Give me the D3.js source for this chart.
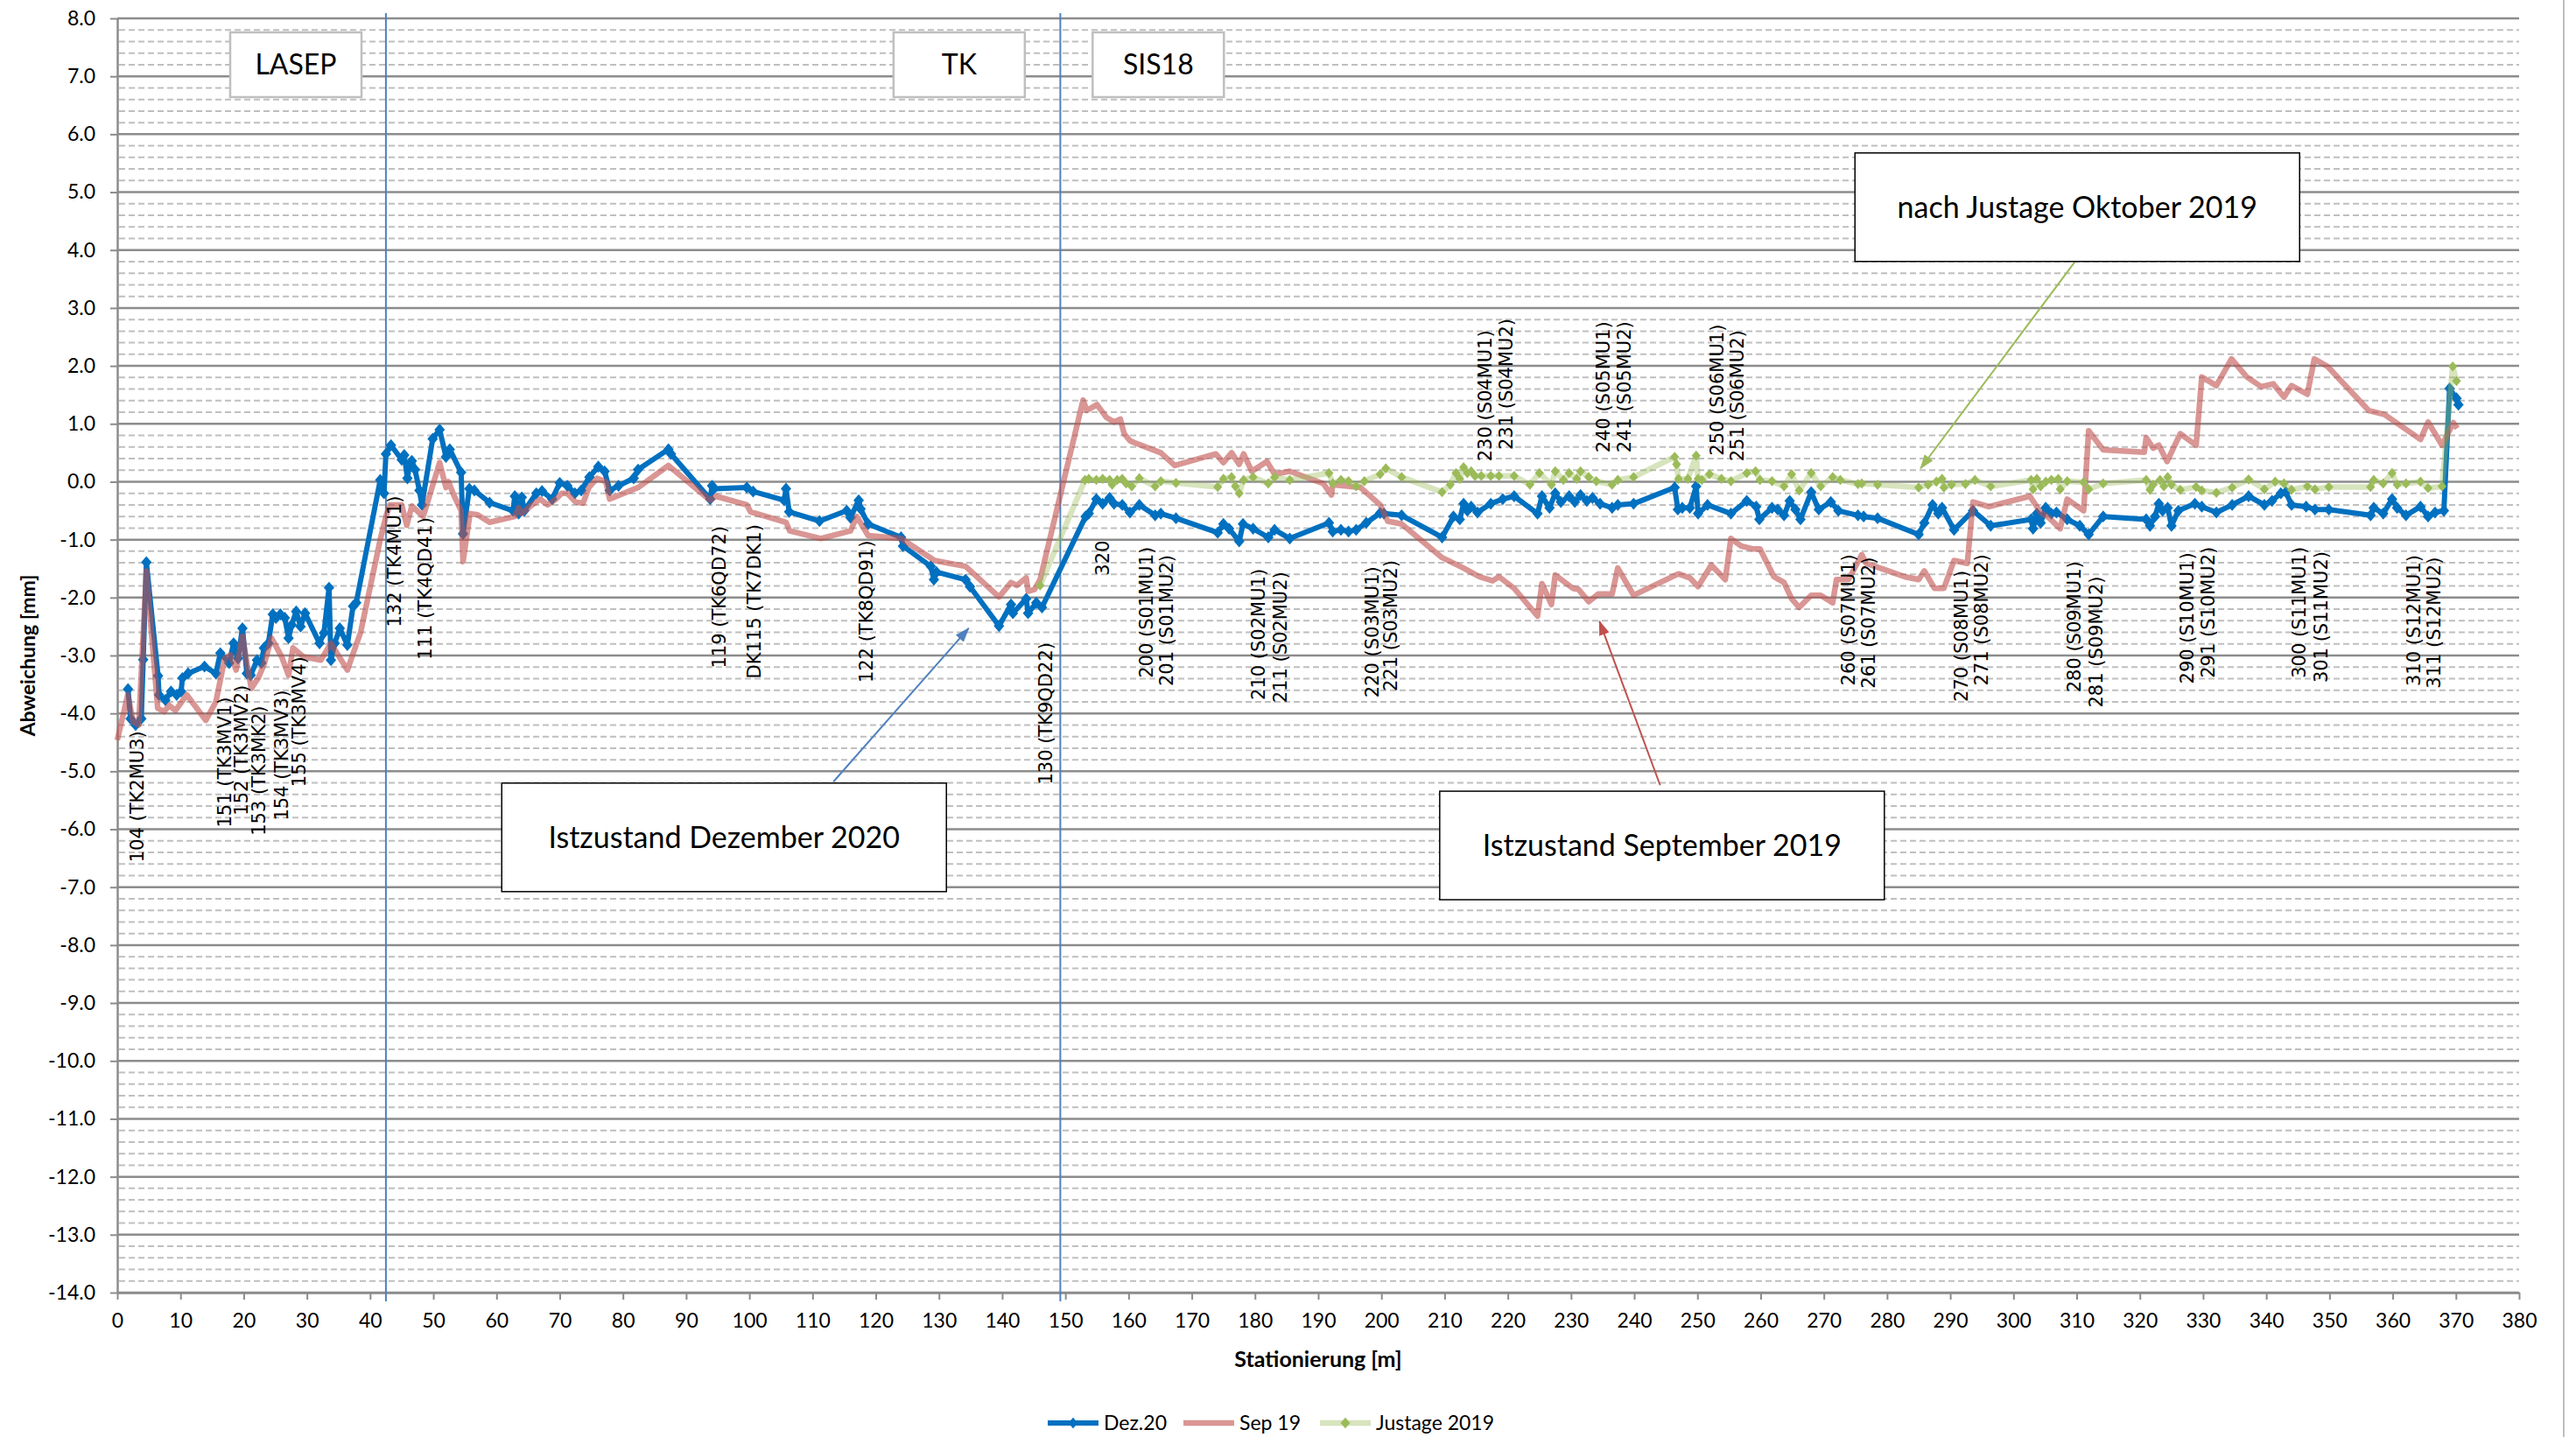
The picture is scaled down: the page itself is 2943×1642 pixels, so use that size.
<!DOCTYPE html>
<html>
<head>
<meta charset="utf-8">
<script src="https://cdn.jsdelivr.net/npm/d3@7"></script>
<style>
  body { margin: 0; background: #fff; }
  svg { display: block; font-family: Lato, "Open Sans", sans-serif; }
</style>
</head>
<body>
<script>
// ---- data (station [m], deviation [mm]) ----
const dez20 = [
  [1.7,-3.58],[2.1,-4.09],[2.9,-4.2],[3.8,-4.09],[4.1,-3.07],[4.6,-1.39],[6.45,-3.35],[6.6,-3.68],[7.6,-3.77],[8.5,-3.62],
  [9.4,-3.68],[10.1,-3.62],[10.3,-3.39],[11.2,-3.31],[13.8,-3.19],[15.6,-3.31],[16.3,-2.96],[17.7,-3.13],[18.4,-2.79],[19.1,-3.05],
  [19.8,-2.53],[20.5,-3.31],[21.1,-3.34],[22.1,-3.08],[22.8,-3.13],[23.2,-2.87],[23.9,-2.79],[24.6,-2.29],[25.1,-2.35],[25.8,-2.29],
  [26.5,-2.35],[27.1,-2.7],[27.6,-2.47],[28.3,-2.24],[29.0,-2.5],[29.7,-2.27],[32.0,-2.79],[32.7,-2.61],[33.5,-1.83],[33.8,-3.08],
  [34.4,-2.79],[35.2,-2.53],[36.4,-2.82],[37.3,-2.15],[37.8,-2.09],[41.6,0.03],[42.2,-0.2],[42.5,0.48],[43.3,0.63],[45.0,0.38],
  [45.4,0.46],[45.9,0.06],[46.2,0.26],[46.6,0.36],[47.1,0.21],[47.8,-0.15],[48.2,-0.4],[49.9,0.74],[51.0,0.9],[52.0,0.43],
  [52.6,0.56],[54.4,0.16],[54.7,-0.9],[55.7,-0.12],[56.5,-0.15],[58.9,-0.36],[62.6,-0.5],[62.9,-0.25],[63.5,-0.55],[64.0,-0.27],
  [64.4,-0.5],[66.3,-0.2],[67.2,-0.16],[68.8,-0.3],[70.0,-0.02],[71.2,-0.07],[72.4,-0.2],[73.4,-0.15],[74.7,0.08],[76.1,0.26],
  [77.1,0.18],[77.9,-0.15],[79.3,-0.07],[81.7,0.06],[82.4,0.21],[87.2,0.56],[87.6,0.48],[93.8,-0.3],[94.1,-0.07],[94.4,-0.12],
  [99.6,-0.1],[100.6,-0.17],[105.5,-0.32],[105.8,-0.12],[106.3,-0.52],[111.1,-0.68],[115.4,-0.5],[116.0,-0.62],[117.3,-0.32],[117.6,-0.47],
  [118.8,-0.73],[124.0,-0.96],[124.3,-1.11],[128.7,-1.46],[129.2,-1.69],[129.6,-1.56],[134.2,-1.69],[134.9,-1.81],[139.5,-2.49],[141.4,-2.12],
  [141.7,-2.27],[143.8,-2.02],[144.1,-2.27],[145.4,-2.09],[146.3,-2.17],[153.2,-0.6],[153.7,-0.55],[154.9,-0.3],[155.9,-0.38],[157.0,-0.28],
  [157.7,-0.38],[159.0,-0.4],[160.2,-0.53],[161.7,-0.4],[164.2,-0.58],[165.1,-0.55],[167.5,-0.63],[174.1,-0.88],[175.0,-0.73],[175.9,-0.81],
  [177.5,-1.03],[178.1,-0.73],[179.7,-0.81],[182.1,-0.96],[183.1,-0.83],[185.5,-0.98],[191.7,-0.71],[192.3,-0.86],[193.6,-0.83],[194.8,-0.86],
  [196.0,-0.83],[197.6,-0.71],[199.8,-0.54],[200.4,-0.55],[203.2,-0.58],[209.6,-0.96],[211.4,-0.6],[212.4,-0.65],[213.0,-0.38],[213.6,-0.5],
  [214.2,-0.43],[215.2,-0.53],[217.3,-0.38],[219.2,-0.3],[221.0,-0.25],[224.7,-0.55],[225.4,-0.25],[226.6,-0.45],[227.5,-0.2],[228.4,-0.35],
  [229.7,-0.25],[230.6,-0.35],[231.5,-0.23],[232.5,-0.33],[233.4,-0.28],[234.6,-0.38],[236.5,-0.45],[237.4,-0.4],[239.9,-0.38],[246.4,-0.1],
  [246.9,-0.48],[247.6,-0.45],[248.8,-0.45],[249.8,-0.08],[250.1,-0.55],[251.6,-0.4],[255.3,-0.55],[257.8,-0.33],[259.3,-0.43],[259.8,-0.65],
  [261.8,-0.45],[262.7,-0.48],[263.7,-0.58],[264.6,-0.33],[265.5,-0.48],[266.3,-0.65],[268.0,-0.18],[269.2,-0.48],[271.1,-0.35],[272.3,-0.5],
  [275.4,-0.58],[276.3,-0.6],[278.5,-0.63],[285.0,-0.91],[285.9,-0.71],[287.2,-0.4],[288.1,-0.55],[288.7,-0.45],[290.6,-0.83],[293.6,-0.5],
  [296.4,-0.76],[302.8,-0.65],[303.1,-0.81],[303.7,-0.55],[304.3,-0.71],[305.1,-0.45],[306.0,-0.55],[306.8,-0.53],[308.5,-0.65],[310.5,-0.76],
  [311.9,-0.91],[314.2,-0.6],[321.0,-0.65],[321.6,-0.76],[322.4,-0.6],[323.0,-0.38],[323.6,-0.5],[324.4,-0.45],[325.0,-0.76],[326.1,-0.5],
  [328.7,-0.38],[329.8,-0.43],[332.1,-0.53],[334.6,-0.4],[337.2,-0.25],[339.7,-0.4],[340.9,-0.33],[342.3,-0.2],[343.1,-0.18],[344.0,-0.4],
  [346.3,-0.43],[347.7,-0.48],[349.9,-0.48],[356.5,-0.58],[357.0,-0.45],[358.5,-0.55],[359.9,-0.3],[360.7,-0.45],[362.1,-0.58],[364.4,-0.43],
  [365.6,-0.6],[366.7,-0.53],[368.1,-0.5],[369.0,1.61],[370.1,1.44],[370.4,1.33]
];

const sep19 = [
  [0,-4.46],[1.66,-3.68],[2.5,-4.14],[3.4,-4.2],[4.6,-1.54],[6.4,-3.91],[7.4,-3.97],[8.2,-3.86],[9.2,-3.95],[11.0,-3.68],
  [14.0,-4.12],[15.6,-3.8],[17.0,-3.05],[17.9,-2.99],[18.8,-3.25],[19.8,-2.67],[21.2,-3.57],[22.3,-3.39],[23.2,-3.16],[24.4,-2.7],
  [26.0,-3.02],[27.1,-3.34],[27.8,-2.87],[29.4,-3.02],[32.2,-3.08],[33.8,-2.79],[36.4,-3.25],[38.5,-2.6],[41.6,-1.0],[42.5,-0.6],
  [43.1,-0.4],[45.0,-0.4],[45.8,-0.75],[46.6,-0.42],[48.4,-0.6],[51.0,0.33],[52.0,-0.1],[52.4,0.0],[53.2,-0.22],[54.4,-0.5],
  [54.7,-1.38],[55.8,-0.55],[57.0,-0.57],[58.9,-0.7],[62.9,-0.6],[63.5,-0.45],[64.0,-0.55],[65.4,-0.42],[66.9,-0.3],[68.1,-0.4],
  [69.4,-0.3],[70.3,-0.2],[71.2,-0.2],[72.5,-0.35],[73.7,-0.37],[74.6,-0.1],[75.9,0.06],[77.3,0.0],[77.9,-0.3],[82.4,-0.1],
  [87.2,0.28],[93.8,-0.32],[94.7,-0.25],[99.6,-0.4],[100.2,-0.52],[105.8,-0.7],[106.4,-0.85],[111.3,-0.98],[116.0,-0.85],[117.0,-0.6],
  [118.8,-0.93],[124.0,-0.98],[129.3,-1.36],[134.2,-1.46],[139.5,-1.99],[141.4,-1.74],[142.3,-1.79],[143.8,-1.66],[144.1,-1.89],[145.1,-1.86],
  [146.0,-1.69],[152.8,1.41],[153.4,1.23],[155.0,1.33],[156.5,1.11],[157.7,1.03],[158.7,1.08],[159.3,0.83],[160.2,0.71],[160.8,0.68],
  [165.1,0.5],[167.3,0.28],[173.8,0.48],[175.0,0.33],[176.3,0.5],[177.5,0.3],[178.2,0.48],[179.5,0.18],[181.9,0.35],[183.1,0.13],
  [185.5,0.18],[190.8,-0.03],[192.1,-0.23],[192.3,-0.05],[196.7,-0.1],[199.8,-0.4],[201.0,-0.68],[203.2,-0.73],[209.6,-1.31],[213.0,-1.49],
  [215.5,-1.64],[217.6,-1.71],[218.6,-1.64],[221.0,-1.84],[224.7,-2.32],[225.4,-1.76],[226.9,-2.12],[227.5,-1.61],[230.3,-1.84],[231.2,-1.86],
  [232.8,-2.07],[234.3,-1.94],[236.5,-1.94],[237.4,-1.49],[239.9,-1.96],[247.0,-1.59],[248.8,-1.66],[250.1,-1.81],[252.2,-1.44],[254.4,-1.69],
  [255.3,-0.98],[256.9,-1.11],[258.7,-1.16],[259.9,-1.16],[262.1,-1.64],[263.7,-1.74],[264.9,-2.02],[266.1,-2.17],[268.0,-1.96],[269.5,-1.96],
  [271.4,-2.09],[272.0,-1.69],[273.9,-1.69],[276.0,-1.26],[276.7,-1.41],[279.4,-1.51],[282.8,-1.64],[285.0,-1.69],[285.9,-1.54],[287.5,-1.84],
  [289.0,-1.84],[290.6,-1.36],[292.7,-1.41],[293.6,-0.35],[296.1,-0.43],[302.6,-0.25],[304.3,-0.53],[305.7,-0.63],[307.4,-0.81],[308.5,-0.3],
  [311.1,-0.5],[311.9,0.88],[314.2,0.55],[320.7,0.51],[321.0,0.76],[322.1,0.58],[323.0,0.63],[324.3,0.35],[326.4,0.83],[328.9,0.63],
  [329.8,1.81],[332.1,1.66],[334.5,2.12],[336.9,1.81],[339.2,1.64],[341.1,1.69],[342.8,1.46],[344.0,1.66],[346.5,1.51],[347.6,2.12],
  [349.7,1.99],[356.2,1.23],[358.7,1.16],[364.4,0.73],[365.6,1.03],[367.8,0.63],[369.6,1.02],[370.2,0.92]
];

const justage2019 = [
  [146.0,-1.79],[153.1,0.03],[153.7,0.05],[154.9,0.03],[155.9,0.05],[157.0,0.03],[157.4,-0.05],[158.2,0.03],[159.0,0.05],[159.6,-0.03],
  [160.5,-0.08],[161.7,0.06],[164.2,-0.08],[165.1,0.01],[167.5,-0.02],[174.1,-0.09],[175.0,0.05],[176.3,0.08],[176.9,-0.08],[177.5,-0.2],
  [178.2,0.03],[179.7,0.08],[182.1,-0.03],[183.1,0.08],[185.5,0.03],[191.7,0.15],[192.3,-0.03],[193.6,0.03],[194.8,0.01],[196.0,-0.08],
  [197.3,0.01],[199.8,0.13],[200.7,0.23],[203.2,0.08],[209.6,-0.18],[210.9,-0.05],[211.8,0.15],[212.4,0.05],[213.0,0.25],[213.6,0.15],
  [214.2,0.18],[214.8,0.1],[215.8,0.1],[217.3,0.1],[218.6,0.1],[221.0,0.1],[223.5,-0.05],[225.0,0.15],[226.9,-0.05],[227.5,0.18],
  [228.8,0.03],[229.7,0.15],[230.9,0.05],[231.5,0.18],[232.8,0.08],[234.0,0.01],[236.5,-0.05],[237.4,0.03],[239.9,0.08],[246.4,0.43],
  [246.7,0.3],[247.0,0.05],[248.5,0.05],[249.8,0.45],[250.1,0.05],[250.7,0.03],[251.9,0.13],[253.8,0.05],[255.3,0.01],[257.8,0.15],
  [259.2,0.18],[259.9,0.03],[261.8,0.01],[263.7,-0.08],[264.9,0.13],[266.1,-0.15],[268.0,0.15],[269.5,-0.08],[271.4,0.08],[272.6,0.03],
  [275.4,-0.04],[276.0,-0.03],[278.5,-0.05],[285.0,-0.1],[286.5,-0.05],[287.8,0.0],[288.7,0.05],[289.0,-0.1],[290.2,-0.05],[292.4,-0.04],
  [293.9,0.03],[296.4,-0.08],[302.8,0.03],[303.1,-0.13],[303.7,0.05],[304.3,-0.08],[305.1,0.0],[306.0,0.03],[307.1,0.05],[307.4,-0.13],
  [308.5,0.01],[311.1,-0.01],[311.9,-0.13],[314.2,-0.03],[321.0,0.03],[321.6,-0.14],[322.1,-0.05],[323.2,0.03],[323.8,-0.08],[324.4,0.08],
  [325.0,-0.05],[326.4,-0.14],[328.9,-0.09],[329.8,-0.15],[332.1,-0.19],[334.6,-0.1],[337.2,0.04],[339.7,-0.13],[341.4,0.0],[342.8,-0.03],
  [344.0,-0.14],[346.5,-0.08],[347.7,-0.13],[349.9,-0.09],[356.5,-0.09],[357.0,0.03],[358.5,-0.03],[359.9,0.15],[360.7,-0.05],[362.1,-0.03],
  [364.4,0.0],[365.6,-0.11],[367.8,-0.08],[369.5,1.99],[370.1,1.74]
];

// section borders (station)
const sectionBorders = [42.5, 149.2];
const sectionNames = [
  {t: "LASEP", x: 28.25, y: 7.2},
  {t: "TK", x: 133.2, y: 7.2},
  {t: "SIS18", x: 164.7, y: 7.2}
];

// point labels: text, station, start (bottom) of rotated text in mm
const pointLabels = [
  {t: "104 (TK2MU3)", x: 3.2, y: -6.57},
  {t: "151 (TK3MV1)", x: 17.1, y: -5.97},
  {t: "152 (TK3MV2)", x: 19.6, y: -5.76},
  {t: "153 (TK3MK2)", x: 22.4, y: -6.11},
  {t: "154 (TK3MV3)", x: 26.1, y: -5.85},
  {t: "155 (TK3MV4)", x: 28.8, y: -5.27},
  {t: "132 (TK4MU1)", x: 43.9, y: -2.51},
  {t: "111 (TK4QD41)", x: 48.8, y: -3.07},
  {t: "119 (TK6QD72)", x: 95.3, y: -3.22},
  {t: "DK115 (TK7DK1)", x: 100.8, y: -3.4},
  {t: "122 (TK8QD91)", x: 118.6, y: -3.47},
  {t: "130 (TK9QD22)", x: 146.9, y: -5.23},
  {t: "320", x: 156.0, y: -1.62},
  {t: "200 (S01MU1)", x: 162.8, y: -3.39},
  {t: "201 (S01MU2)", x: 166.1, y: -3.53},
  {t: "210 (S02MU1)", x: 180.6, y: -3.77},
  {t: "211 (S02MU2)", x: 184.0, y: -3.82},
  {t: "220 (S03MU1)", x: 198.6, y: -3.73},
  {t: "221 (S03MU2)", x: 201.5, y: -3.62},
  {t: "230 (S04MU1)", x: 216.5, y: 0.35},
  {t: "231 (S04MU2)", x: 219.8, y: 0.55},
  {t: "240 (S05MU1)", x: 235.2, y: 0.5},
  {t: "241 (S05MU2)", x: 238.5, y: 0.5},
  {t: "250 (S06MU1)", x: 253.2, y: 0.45},
  {t: "251 (S06MU2)", x: 256.4, y: 0.35},
  {t: "260 (S07MU1)", x: 273.9, y: -3.52},
  {t: "261 (S07MU2)", x: 277.1, y: -3.57},
  {t: "270 (S08MU1)", x: 291.8, y: -3.8},
  {t: "271 (S08MU2)", x: 295.0, y: -3.52},
  {t: "280 (S09MU1)", x: 309.7, y: -3.64},
  {t: "281 (S09MU2)", x: 313.1, y: -3.9},
  {t: "290 (S10MU1)", x: 327.5, y: -3.49},
  {t: "291 (S10MU2)", x: 330.8, y: -3.39},
  {t: "300 (S11MU1)", x: 345.3, y: -3.39},
  {t: "301 (S11MU2)", x: 348.7, y: -3.47},
  {t: "310 (S12MU1)", x: 363.4, y: -3.53},
  {t: "311 (S12MU2)", x: 366.6, y: -3.57}
];

// callouts: box centre, arrow start/tip (station, mm)
const callouts = [
  {t: "Istzustand Dezember 2020", x: 96.0, y: -6.14, color: "#4F81BD", from: [113.3, -5.18], to: [134.7, -2.53]},
  {t: "Istzustand September 2019", x: 244.4, y: -6.28, color: "#C0504D", from: [244.1, -5.24], to: [234.5, -2.41]},
  {t: "nach Justage Oktober 2019", x: 310.1, y: 4.74, color: "#9BBB59", from: [309.8, 3.81], to: [285.3, 0.23]}
];

const yTicks = d3.range(-14, 8.5, 1);
const xTicks = d3.range(0, 381, 10);

// ---- layout ----
const width = 2943, height = 1642;
const margin = {left: 134, top: 21, right: 65, bottom: 165};
const chartWidth = width - margin.left - margin.right;
const chartHeight = height - margin.top - margin.bottom;

const svg = d3.select("body").append("svg")
    .attr("width", width)
    .attr("height", height);

svg.append("rect").attr("width", width).attr("height", height).attr("fill", "#fff");
// chart area border (right edge visible)
svg.append("line")
    .attr("x1", 2929).attr("x2", 2929).attr("y1", 0).attr("y2", height)
    .attr("stroke", "#bfbfbf").attr("stroke-width", 2);

const defs = svg.append("defs");
callouts.forEach((c, i) => {
  defs.append("marker")
      .attr("id", "arr" + i)
      .attr("markerUnits", "userSpaceOnUse")
      .attr("viewBox", "0 0 14 10")
      .attr("refX", 13).attr("refY", 5)
      .attr("markerWidth", 17).attr("markerHeight", 12)
      .attr("orient", "auto")
    .append("path")
      .attr("d", "M0,0L14,5L0,10Z")
      .attr("fill", c.color);
});

const g = svg.append("g")
    .attr("transform", "translate(" + margin.left + "," + margin.top + ")");

const xScale = d3.scaleLinear().domain([0, 380]).range([0, chartWidth]);
const yScale = d3.scaleLinear().domain([-14, 8]).range([chartHeight, 0]);

// minor grid
const minor = d3.range(0, 111).filter(i => i % 5 !== 0).map(i => -14 + i * 0.2);
g.append("g").selectAll("line").data(minor).enter().append("line")
    .attr("x1", 2).attr("x2", chartWidth)
    .attr("y1", d => yScale(d)).attr("y2", d => yScale(d))
    .attr("stroke", "#bfbfbf").attr("stroke-width", 2)
    .attr("stroke-dasharray", "7,4");

// major grid
g.append("g").selectAll("line").data(yTicks).enter().append("line")
    .attr("x1", 0).attr("x2", chartWidth)
    .attr("y1", d => yScale(d)).attr("y2", d => yScale(d))
    .attr("stroke", "#8c8c8c").attr("stroke-width", 2.5);

// axes
const yAxis = g.append("g")
    .call(d3.axisLeft(yScale).tickValues(yTicks).tickSize(8).tickSizeOuter(0).tickPadding(17)
      .tickFormat(d => d.toFixed(1)));
const xAxis = g.append("g")
    .attr("transform", "translate(0," + chartHeight + ")")
    .call(d3.axisBottom(xScale).tickValues(xTicks).tickSize(8).tickSizeOuter(0).tickPadding(16)
      .tickFormat(d3.format("d")));
[yAxis, xAxis].forEach(a => {
  a.select(".domain").attr("stroke", "#8c8c8c").attr("stroke-width", 2.5);
  a.selectAll(".tick line").attr("stroke", "#8c8c8c").attr("stroke-width", 2);
  a.selectAll(".tick text").attr("fill", "#000")
      .style("font-family", "Lato, sans-serif").style("font-size", "23px");
});

// section border lines
g.append("g").selectAll("line").data(sectionBorders).enter().append("line")
    .attr("x1", d => xScale(d)).attr("x2", d => xScale(d))
    .attr("y1", -6).attr("y2", chartHeight + 10)
    .attr("stroke", "#4F81BD").attr("stroke-width", 2);

// section name boxes
const sec = g.append("g").selectAll("g").data(sectionNames).enter().append("g")
    .attr("transform", d => "translate(" + xScale(d.x) + "," + yScale(d.y) + ")");
sec.append("rect")
    .attr("x", -75).attr("y", -37).attr("width", 150).attr("height", 74)
    .attr("fill", "#fff").attr("stroke", "#bfbfbf").attr("stroke-width", 2.5);
sec.append("text")
    .attr("text-anchor", "middle").attr("dy", "0.36em")
    .style("font-size", "32px").attr("fill", "#000")
    .text(d => d.t);

// series
const line = d3.line().x(d => xScale(d[0])).y(d => yScale(d[1]));
const diamond = {
  draw(context, size) {
    const r = Math.sqrt(size / 2);
    context.moveTo(0, -r * 1.15);
    context.lineTo(r, 0);
    context.lineTo(0, r * 1.15);
    context.lineTo(-r, 0);
    context.closePath();
  }
};

g.append("path").datum(dez20)
    .attr("d", line).attr("fill", "none")
    .attr("stroke", "#0070C0").attr("stroke-width", 6).attr("stroke-linejoin", "round");
g.append("g").selectAll("path").data(dez20).enter().append("path")
    .attr("transform", d => "translate(" + xScale(d[0]) + "," + yScale(d[1]) + ")")
    .attr("d", d3.symbol(diamond, 72))
    .attr("fill", "#0070C0");

g.append("path").datum(sep19)
    .attr("d", line).attr("fill", "none")
    .attr("stroke", "rgba(192,80,77,0.6)").attr("stroke-width", 6.5).attr("stroke-linejoin", "round");

g.append("path").datum(justage2019)
    .attr("d", line).attr("fill", "none")
    .attr("stroke", "rgba(155,187,89,0.4)").attr("stroke-width", 6.5).attr("stroke-linejoin", "round");
g.append("g").selectAll("path").data(justage2019).enter().append("path")
    .attr("transform", d => "translate(" + xScale(d[0]) + "," + yScale(d[1]) + ")")
    .attr("d", d3.symbol(diamond, 52))
    .attr("fill", "#9BBB59");

// point labels
g.append("g").selectAll("text").data(pointLabels).enter().append("text")
    .attr("transform", d => "translate(" + xScale(d.x) + "," + yScale(d.y) + ") rotate(-90)")
    .attr("dominant-baseline", "central")
    .style("font-family", "'DejaVu Sans', sans-serif").style("font-size", "21px")
    .attr("fill", "#000")
    .text(d => d.t);

// callouts
const co = g.append("g").selectAll("g").data(callouts).enter().append("g");
co.append("line")
    .attr("x1", d => xScale(d.from[0])).attr("y1", d => yScale(d.from[1]))
    .attr("x2", d => xScale(d.to[0])).attr("y2", d => yScale(d.to[1]))
    .attr("stroke", d => d.color).attr("stroke-width", 2)
    .attr("marker-end", (d, i) => "url(#arr" + i + ")");
co.append("rect")
    .attr("x", d => xScale(d.x) - 254).attr("y", d => yScale(d.y) - 62)
    .attr("width", 508).attr("height", 124)
    .attr("fill", "#fff").attr("stroke", "#000").attr("stroke-width", 1.5);
co.append("text")
    .attr("x", d => xScale(d.x)).attr("y", d => yScale(d.y))
    .attr("text-anchor", "middle").attr("dy", "0.36em")
    .style("font-size", "34px").attr("fill", "#000")
    .text(d => d.t);

// axis titles
svg.append("text")
    .attr("transform", "translate(32," + (margin.top + chartHeight / 2) + ") rotate(-90)")
    .attr("text-anchor", "middle").attr("dy", "0.36em")
    .style("font-size", "23px").style("font-weight", "bold")
    .text("Abweichung [mm]");
svg.append("text")
    .attr("x", margin.left + chartWidth / 2).attr("y", 1553)
    .attr("text-anchor", "middle").attr("dy", "0.36em")
    .style("font-size", "25px").style("font-weight", "bold")
    .text("Stationierung [m]");

// legend
const legendItems = [
  {name: "Dez.20", x: 1197, stroke: "#0070C0", width: 6, marker: "#0070C0"},
  {name: "Sep 19", x: 1352, stroke: "rgba(192,80,77,0.6)", width: 6.5, marker: null},
  {name: "Justage 2019", x: 1508, stroke: "rgba(155,187,89,0.4)", width: 6.5, marker: "#9BBB59"}
];
const lg = svg.append("g").selectAll("g").data(legendItems).enter().append("g")
    .attr("transform", d => "translate(" + d.x + ",1626)");
lg.append("line")
    .attr("x1", 0).attr("x2", 58)
    .attr("stroke", d => d.stroke).attr("stroke-width", d => d.width);
lg.filter(d => d.marker).append("path")
    .attr("transform", "translate(29,0)")
    .attr("d", d3.symbol(diamond, 60))
    .attr("fill", d => d.marker);
lg.append("text")
    .attr("x", 64).attr("dy", "0.36em")
    .style("font-size", "23px").attr("fill", "#000")
    .text(d => d.name);
</script>
</body>
</html>
